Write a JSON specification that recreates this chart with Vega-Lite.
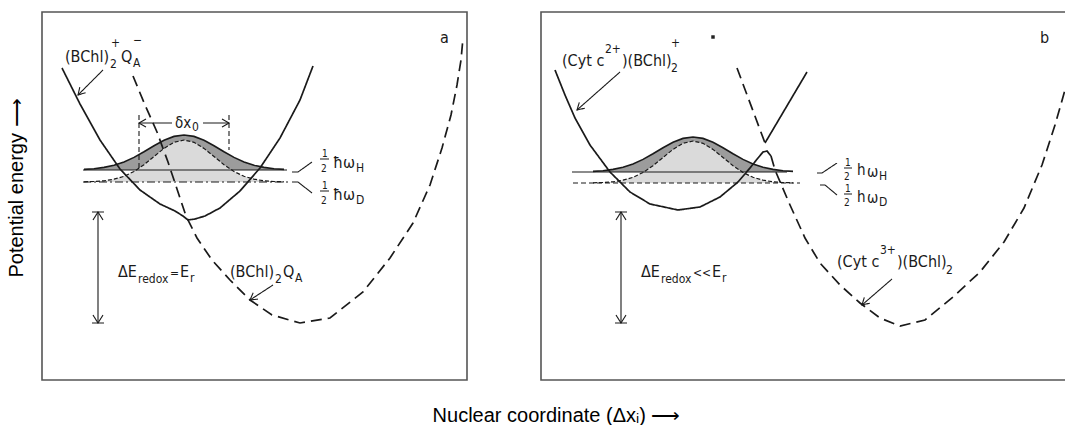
{
 "$schema": "https://vega.github.io/schema/vega-lite/v6.json",
 "width": 1023, "height": 368,
 "autosize": {"type": "none"},
 "padding": {"left": 42, "top": 12, "right": 0, "bottom": 45},
 "background": "white",
 "config": {"view": {"stroke": null}, "text": {"font": "DejaVu Sans Condensed, sans-serif", "align": "left", "baseline": "alphabetic", "color": "#1a1a1a"}},
 "datasets": {
  "frames": [{"p": "a", "X": 0, "X2": 425, "Y": 0, "Y2": 368}, {"p": "b", "X": 499, "X2": 1033, "Y": 0, "Y2": 368}],
  "gauss": [
   {"p":"a","X":42,"H":210.6,"D":198.2,"Hb":210,"Db":198},{"p":"a","X":52,"H":211.3,"D":198.5,"Hb":210,"Db":198},{"p":"a","X":62,"H":212.6,"D":199.2,"Hb":210,"Db":198},{"p":"a","X":72,"H":214.7,"D":200.8,"Hb":210,"Db":198},{"p":"a","X":82,"H":218.1,"D":203.7,"Hb":210,"Db":198},{"p":"a","X":92,"H":222.6,"D":208.5,"Hb":210,"Db":198},{"p":"a","X":102,"H":228.2,"D":215.3,"Hb":210,"Db":198},{"p":"a","X":112,"H":234.2,"D":223.5,"Hb":210,"Db":198},{"p":"a","X":122,"H":239.7,"D":231.6,"Hb":210,"Db":198},{"p":"a","X":132,"H":243.6,"D":237.7,"Hb":210,"Db":198},{"p":"a","X":142,"H":245,"D":240,"Hb":210,"Db":198},{"p":"a","X":152,"H":243.6,"D":237.7,"Hb":210,"Db":198},{"p":"a","X":162,"H":239.7,"D":231.6,"Hb":210,"Db":198},{"p":"a","X":172,"H":234.2,"D":223.5,"Hb":210,"Db":198},{"p":"a","X":182,"H":228.2,"D":215.3,"Hb":210,"Db":198},{"p":"a","X":192,"H":222.6,"D":208.5,"Hb":210,"Db":198},{"p":"a","X":202,"H":218.1,"D":203.7,"Hb":210,"Db":198},{"p":"a","X":212,"H":214.7,"D":200.8,"Hb":210,"Db":198},{"p":"a","X":222,"H":212.6,"D":199.2,"Hb":210,"Db":198},{"p":"a","X":232,"H":211.3,"D":198.5,"Hb":210,"Db":198},{"p":"a","X":242,"H":210.6,"D":198.2,"Hb":210,"Db":198},
   {"p":"b","X":551,"H":208.6,"D":197.2,"Hb":208,"Db":197},{"p":"b","X":561,"H":209.3,"D":197.5,"Hb":208,"Db":197},{"p":"b","X":571,"H":210.6,"D":198.2,"Hb":208,"Db":197},{"p":"b","X":581,"H":212.7,"D":199.8,"Hb":208,"Db":197},{"p":"b","X":591,"H":216.1,"D":202.7,"Hb":208,"Db":197},{"p":"b","X":601,"H":220.6,"D":207.5,"Hb":208,"Db":197},{"p":"b","X":611,"H":226.2,"D":214.3,"Hb":208,"Db":197},{"p":"b","X":621,"H":232.2,"D":222.5,"Hb":208,"Db":197},{"p":"b","X":631,"H":237.7,"D":230.6,"Hb":208,"Db":197},{"p":"b","X":641,"H":241.6,"D":236.7,"Hb":208,"Db":197},{"p":"b","X":651,"H":243,"D":239,"Hb":208,"Db":197},{"p":"b","X":661,"H":241.6,"D":236.7,"Hb":208,"Db":197},{"p":"b","X":671,"H":237.7,"D":230.6,"Hb":208,"Db":197},{"p":"b","X":681,"H":232.2,"D":222.5,"Hb":208,"Db":197},{"p":"b","X":691,"H":226.2,"D":214.3,"Hb":208,"Db":197},{"p":"b","X":701,"H":220.6,"D":207.5,"Hb":208,"Db":197},{"p":"b","X":711,"H":216.1,"D":202.7,"Hb":208,"Db":197},{"p":"b","X":721,"H":212.7,"D":199.8,"Hb":208,"Db":197},{"p":"b","X":731,"H":210.6,"D":198.2,"Hb":208,"Db":197},{"p":"b","X":741,"H":209.3,"D":197.5,"Hb":208,"Db":197},{"p":"b","X":751,"H":208.6,"D":197.2,"Hb":208,"Db":197}
  ],
  "L": [
   {"g":"a_sol","k":"c","s":"solid","X":20,"Y":312},{"g":"a_sol","k":"c","s":"solid","X":38,"Y":276},{"g":"a_sol","k":"c","s":"solid","X":58,"Y":240},{"g":"a_sol","k":"c","s":"solid","X":78,"Y":211},{"g":"a_sol","k":"c","s":"solid","X":98,"Y":190},{"g":"a_sol","k":"c","s":"solid","X":118,"Y":176},{"g":"a_sol","k":"c","s":"solid","X":133,"Y":169},{"g":"a_sol","k":"c","s":"solid","X":141,"Y":164},{"g":"a_sol","k":"c","s":"solid","X":146,"Y":160},{"g":"a_sol","k":"c","s":"solid","X":153,"Y":161},{"g":"a_sol","k":"c","s":"solid","X":163,"Y":164},{"g":"a_sol","k":"c","s":"solid","X":178,"Y":172},{"g":"a_sol","k":"c","s":"solid","X":198,"Y":189},{"g":"a_sol","k":"c","s":"solid","X":218,"Y":212},{"g":"a_sol","k":"c","s":"solid","X":238,"Y":242},{"g":"a_sol","k":"c","s":"solid","X":258,"Y":280},{"g":"a_sol","k":"c","s":"solid","X":271,"Y":314},
   {"g":"a_dash","k":"c","s":"dash","X":91,"Y":304},{"g":"a_dash","k":"c","s":"dash","X":103,"Y":275},{"g":"a_dash","k":"c","s":"dash","X":115,"Y":248},{"g":"a_dash","k":"c","s":"dash","X":126,"Y":218},{"g":"a_dash","k":"c","s":"dash","X":136,"Y":188},{"g":"a_dash","k":"c","s":"dash","X":144,"Y":164},{"g":"a_dash","k":"c","s":"dash","X":155,"Y":142},{"g":"a_dash","k":"c","s":"dash","X":170,"Y":120},{"g":"a_dash","k":"c","s":"dash","X":188,"Y":100},{"g":"a_dash","k":"c","s":"dash","X":208,"Y":80},{"g":"a_dash","k":"c","s":"dash","X":230,"Y":65},{"g":"a_dash","k":"c","s":"dash","X":258,"Y":57},{"g":"a_dash","k":"c","s":"dash","X":288,"Y":62},{"g":"a_dash","k":"c","s":"dash","X":321,"Y":88},{"g":"a_dash","k":"c","s":"dash","X":348,"Y":122},{"g":"a_dash","k":"c","s":"dash","X":371,"Y":157},{"g":"a_dash","k":"c","s":"dash","X":388,"Y":195},{"g":"a_dash","k":"c","s":"dash","X":400,"Y":232},{"g":"a_dash","k":"c","s":"dash","X":409,"Y":265},{"g":"a_dash","k":"c","s":"dash","X":415,"Y":295},{"g":"a_dash","k":"c","s":"dash","X":419,"Y":320},{"g":"a_dash","k":"c","s":"dash","X":421,"Y":342},
   {"g":"b_sol","k":"c","s":"solid","X":513,"Y":310},{"g":"b_sol","k":"c","s":"solid","X":523,"Y":285},{"g":"b_sol","k":"c","s":"solid","X":533,"Y":262},{"g":"b_sol","k":"c","s":"solid","X":548,"Y":235},{"g":"b_sol","k":"c","s":"solid","X":568,"Y":208},{"g":"b_sol","k":"c","s":"solid","X":588,"Y":188},{"g":"b_sol","k":"c","s":"solid","X":608,"Y":176},{"g":"b_sol","k":"c","s":"solid","X":636,"Y":170},{"g":"b_sol","k":"c","s":"solid","X":658,"Y":173},{"g":"b_sol","k":"c","s":"solid","X":678,"Y":183},{"g":"b_sol","k":"c","s":"solid","X":696,"Y":198},{"g":"b_sol","k":"c","s":"solid","X":708,"Y":212},{"g":"b_sol","k":"c","s":"solid","X":716,"Y":222},{"g":"b_sol","k":"c","s":"solid","X":721,"Y":228},{"g":"b_sol","k":"c","s":"solid","X":725,"Y":229},{"g":"b_sol","k":"c","s":"solid","X":729,"Y":224},
   {"g":"b_dash","k":"c","s":"dash","X":729,"Y":224},{"g":"b_dash","k":"c","s":"dash","X":733,"Y":210},{"g":"b_dash","k":"c","s":"dash","X":748,"Y":175},{"g":"b_dash","k":"c","s":"dash","X":763,"Y":142},{"g":"b_dash","k":"c","s":"dash","X":778,"Y":117},{"g":"b_dash","k":"c","s":"dash","X":798,"Y":95},{"g":"b_dash","k":"c","s":"dash","X":818,"Y":77},{"g":"b_dash","k":"c","s":"dash","X":838,"Y":62},{"g":"b_dash","k":"c","s":"dash","X":858,"Y":54},{"g":"b_dash","k":"c","s":"dash","X":883,"Y":60},{"g":"b_dash","k":"c","s":"dash","X":911,"Y":83},{"g":"b_dash","k":"c","s":"dash","X":938,"Y":108},{"g":"b_dash","k":"c","s":"dash","X":962,"Y":138},{"g":"b_dash","k":"c","s":"dash","X":982,"Y":172},{"g":"b_dash","k":"c","s":"dash","X":1000,"Y":215},{"g":"b_dash","k":"c","s":"dash","X":1013,"Y":255},{"g":"b_dash","k":"c","s":"dash","X":1023,"Y":290},
   {"g":"b_vd","k":"c","s":"dash","X":695,"Y":312},{"g":"b_vd","k":"c","s":"dash","X":723,"Y":237},
   {"g":"b_vs","k":"c","s":"solid","X":723,"Y":237},{"g":"b_vs","k":"c","s":"solid","X":765,"Y":308},
   {"g":"a_Hl","k":"t","s":"solid","X":41,"Y":210},{"g":"a_Hl","k":"t","s":"solid","X":245,"Y":210},
   {"g":"a_Dl","k":"t","s":"dd","X":41,"Y":198},{"g":"a_Dl","k":"t","s":"dd","X":248,"Y":198},
   {"g":"b_Hl","k":"t","s":"solid","X":530,"Y":208},{"g":"b_Hl","k":"t","s":"solid","X":745,"Y":208},
   {"g":"b_Dl","k":"t","s":"fine","X":531,"Y":197},{"g":"b_Dl","k":"t","s":"fine","X":758,"Y":197},
   {"g":"a_Hld","k":"t","s":"solid","X":250,"Y":208},{"g":"a_Hld","k":"t","s":"solid","X":256,"Y":208},{"g":"a_Hld","k":"t","s":"solid","X":270,"Y":218},
   {"g":"a_Dld","k":"t","s":"solid","X":250,"Y":198},{"g":"a_Dld","k":"t","s":"solid","X":256,"Y":198},{"g":"a_Dld","k":"t","s":"solid","X":270,"Y":187},
   {"g":"b_Hld","k":"t","s":"solid","X":775,"Y":207},{"g":"b_Hld","k":"t","s":"solid","X":780,"Y":207},{"g":"b_Hld","k":"t","s":"solid","X":795,"Y":217},
   {"g":"b_Dld","k":"t","s":"solid","X":778,"Y":195},{"g":"b_Dld","k":"t","s":"solid","X":783,"Y":195},{"g":"b_Dld","k":"t","s":"solid","X":795,"Y":185},
   {"g":"a_fH","k":"t","s":"solid","X":278,"Y":221},{"g":"a_fH","k":"t","s":"solid","X":287,"Y":221},
   {"g":"a_fD","k":"t","s":"solid","X":278,"Y":189},{"g":"a_fD","k":"t","s":"solid","X":287,"Y":189},
   {"g":"b_fH","k":"t","s":"solid","X":802,"Y":212},{"g":"b_fH","k":"t","s":"solid","X":810,"Y":212},
   {"g":"b_fD","k":"t","s":"solid","X":802,"Y":186},{"g":"b_fD","k":"t","s":"solid","X":810,"Y":186},
   {"g":"aL1","k":"t","s":"solid","X":61,"Y":310},{"g":"aL1","k":"t","s":"solid","X":36,"Y":285},
   {"g":"aL1h","k":"t","s":"solid","X":37.8,"Y":292.8},{"g":"aL1h","k":"t","s":"solid","X":36,"Y":285},{"g":"aL1h","k":"t","s":"solid","X":43.6,"Y":287.3},
   {"g":"aL2","k":"t","s":"solid","X":231,"Y":95},{"g":"aL2","k":"t","s":"solid","X":208,"Y":80},
   {"g":"aL2h","k":"t","s":"solid","X":211.2,"Y":87.3},{"g":"aL2h","k":"t","s":"solid","X":208,"Y":80},{"g":"aL2h","k":"t","s":"solid","X":215.9,"Y":80.9},
   {"g":"bL1","k":"t","s":"solid","X":578,"Y":308},{"g":"bL1","k":"t","s":"solid","X":535,"Y":270},
   {"g":"bL1h","k":"t","s":"solid","X":537.3,"Y":277.6},{"g":"bL1h","k":"t","s":"solid","X":535,"Y":270},{"g":"bL1h","k":"t","s":"solid","X":542.8,"Y":271.8},
   {"g":"bL2","k":"t","s":"solid","X":850,"Y":101},{"g":"bL2","k":"t","s":"solid","X":820,"Y":75},
   {"g":"bL2h","k":"t","s":"solid","X":822.3,"Y":82.6},{"g":"bL2h","k":"t","s":"solid","X":820,"Y":75},{"g":"bL2h","k":"t","s":"solid","X":827.8,"Y":76.8},
   {"g":"aE","k":"t","s":"solid","X":56,"Y":168},{"g":"aE","k":"t","s":"solid","X":56,"Y":57},
   {"g":"aEc1","k":"t","s":"solid","X":50,"Y":168},{"g":"aEc1","k":"t","s":"solid","X":62,"Y":168},
   {"g":"aEc2","k":"t","s":"solid","X":50,"Y":57},{"g":"aEc2","k":"t","s":"solid","X":62,"Y":57},
   {"g":"aEh1","k":"t","s":"solid","X":51,"Y":160},{"g":"aEh1","k":"t","s":"solid","X":56,"Y":168},{"g":"aEh1","k":"t","s":"solid","X":61,"Y":160},
   {"g":"aEh2","k":"t","s":"solid","X":51,"Y":65},{"g":"aEh2","k":"t","s":"solid","X":56,"Y":57},{"g":"aEh2","k":"t","s":"solid","X":61,"Y":65},
   {"g":"bE","k":"t","s":"solid","X":579,"Y":168},{"g":"bE","k":"t","s":"solid","X":579,"Y":57},
   {"g":"bEc1","k":"t","s":"solid","X":573,"Y":168},{"g":"bEc1","k":"t","s":"solid","X":585,"Y":168},
   {"g":"bEc2","k":"t","s":"solid","X":573,"Y":57},{"g":"bEc2","k":"t","s":"solid","X":585,"Y":57},
   {"g":"bEh1","k":"t","s":"solid","X":574,"Y":160},{"g":"bEh1","k":"t","s":"solid","X":579,"Y":168},{"g":"bEh1","k":"t","s":"solid","X":584,"Y":160},
   {"g":"bEh2","k":"t","s":"solid","X":574,"Y":65},{"g":"bEh2","k":"t","s":"solid","X":579,"Y":57},{"g":"bEh2","k":"t","s":"solid","X":584,"Y":65},
   {"g":"dx1","k":"t","s":"solid","X":97,"Y":257},{"g":"dx1","k":"t","s":"solid","X":130,"Y":257},
   {"g":"dx2","k":"t","s":"solid","X":161,"Y":257},{"g":"dx2","k":"t","s":"solid","X":187,"Y":257},
   {"g":"dxh1","k":"t","s":"solid","X":104,"Y":261},{"g":"dxh1","k":"t","s":"solid","X":97,"Y":257},{"g":"dxh1","k":"t","s":"solid","X":104,"Y":253},
   {"g":"dxh2","k":"t","s":"solid","X":180,"Y":261},{"g":"dxh2","k":"t","s":"solid","X":187,"Y":257},{"g":"dxh2","k":"t","s":"solid","X":180,"Y":253},
   {"g":"dxv1","k":"t","s":"fine","X":97,"Y":265},{"g":"dxv1","k":"t","s":"fine","X":97,"Y":210},
   {"g":"dxv2","k":"t","s":"fine","X":187,"Y":265},{"g":"dxv2","k":"t","s":"fine","X":187,"Y":230}
  ],
  "T": [
   {"r":"m","t":"(BChl)","X":23,"Y":318},{"r":"s","t":"2","X":68,"Y":312},{"r":"s","t":"+","X":69,"Y":333},{"r":"m","t":"Q","X":79,"Y":318},{"r":"s","t":"A","X":91,"Y":313},{"r":"s","t":"−","X":91,"Y":336},
   {"r":"f","t":"δx","X":133,"Y":252},{"r":"s","t":"0","X":150,"Y":249},
   {"r":"n","t":"1","X":280,"Y":223},{"r":"n","t":"2","X":279,"Y":208},{"r":"m","t":"ħ","X":291,"Y":212},{"r":"m","t":"ω","X":301,"Y":212},{"r":"s","t":"H","X":314,"Y":208},
   {"r":"n","t":"1","X":280,"Y":191},{"r":"n","t":"2","X":279,"Y":176},{"r":"m","t":"ħ","X":291,"Y":180},{"r":"m","t":"ω","X":301,"Y":180},{"r":"s","t":"D","X":314,"Y":176},
   {"r":"m","t":"ΔE","X":76,"Y":103},{"r":"s","t":"redox","X":96,"Y":97},{"r":"s","t":"=","X":128,"Y":103},{"r":"m","t":"E","X":138,"Y":103},{"r":"s","t":"r","X":148,"Y":98},
   {"r":"m","t":"(BChl)","X":188,"Y":103},{"r":"s","t":"2","X":233,"Y":97},{"r":"m","t":"Q","X":241,"Y":103},{"r":"s","t":"A","X":253,"Y":98},
   {"r":"m","t":"a","X":398,"Y":337},
   {"r":"m","t":"(Cyt c","X":520,"Y":314},{"r":"s","t":"2+","X":563,"Y":327},{"r":"m","t":")(BChl)","X":580,"Y":314},{"r":"s","t":"2","X":629,"Y":308},{"r":"s","t":"+","X":629,"Y":333},
   {"r":"n","t":"1","X":803,"Y":214},{"r":"n","t":"2","X":802,"Y":200},{"r":"f","t":"h","X":815,"Y":205},{"r":"f","t":"ω","X":825,"Y":203},{"r":"s","t":"H","X":837,"Y":200},
   {"r":"n","t":"1","X":803,"Y":188},{"r":"n","t":"2","X":802,"Y":174},{"r":"f","t":"h","X":815,"Y":178},{"r":"f","t":"ω","X":825,"Y":177},{"r":"s","t":"D","X":837,"Y":174},
   {"r":"m","t":"ΔE","X":599,"Y":103},{"r":"s","t":"redox","X":619,"Y":97},{"r":"s","t":"<<","X":651,"Y":103},{"r":"m","t":"E","X":670,"Y":103},{"r":"s","t":"r","X":680,"Y":98},
   {"r":"m","t":"(Cyt c","X":795,"Y":113},{"r":"s","t":"3+","X":838,"Y":126},{"r":"m","t":")(BChl)","X":855,"Y":113},{"r":"s","t":"2","X":904,"Y":106},
   {"r":"m","t":"b","X":998,"Y":337}
  ],
  "ytitle": [{"t": "Potential energy ⟶", "X": -25, "Y": 192}],
  "dots": [{"X": 671, "Y": 343}]
 },
 "encoding": {
  "x": {"field": "X", "type": "quantitative", "scale": {"domain": [0, 1023], "nice": false, "zero": false},
        "axis": {"title": "Nuclear coordinate (Δxᵢ)  ⟶", "labels": false, "ticks": false, "domain": false, "grid": false, "titleFont": "Liberation Sans, Arial, sans-serif", "titleFontSize": 20, "titleFontWeight": "normal", "titleColor": "#000", "titleX": 514, "titleY": 41, "titleBaseline": "alphabetic", "titleAlign": "center", "titleAnchor": null}},
  "y": {"field": "Y", "type": "quantitative", "scale": {"domain": [0, 368], "nice": false, "zero": false}, "axis": null}
 },
 "layer": [
  {"data": {"name": "frames"}, "mark": {"type": "rect", "filled": false, "stroke": "#555", "strokeWidth": 1.6},
   "encoding": {"x2": {"field": "X2"}, "y2": {"field": "Y2"}}},
  {"data": {"name": "gauss"}, "mark": {"type": "area", "fill": "#9c9c9c"},
   "encoding": {"y": {"field": "H", "type": "quantitative", "axis": null}, "y2": {"field": "Hb"}, "detail": {"field": "p"}}},
  {"data": {"name": "gauss"}, "mark": {"type": "area", "fill": "#dadada"},
   "encoding": {"y": {"field": "D", "type": "quantitative", "axis": null}, "y2": {"field": "Db"}, "detail": {"field": "p"}}},
  {"data": {"name": "gauss"}, "mark": {"type": "line", "color": "#1a1a1a", "strokeWidth": 1.6},
   "encoding": {"y": {"field": "H", "type": "quantitative", "axis": null}, "detail": {"field": "p"}}},
  {"data": {"name": "gauss"}, "mark": {"type": "line", "color": "#1a1a1a", "strokeWidth": 1.2, "strokeDash": [4, 2]},
   "encoding": {"y": {"field": "D", "type": "quantitative", "axis": null}, "detail": {"field": "p"}}},
  {"data": {"name": "L"}, "transform": [{"filter": "datum.k == 'c'"}], "mark": {"type": "line", "color": "#1a1a1a", "strokeWidth": 1.7},
   "encoding": {"detail": {"field": "g"}, "order": {"value": null},
    "strokeDash": {"field": "s", "type": "nominal", "scale": {"domain": ["solid", "dash", "fine", "dd"], "range": [[1, 0], [11, 6], [5, 3], [8, 3, 2, 3]]}, "legend": null}}},
  {"data": {"name": "L"}, "transform": [{"filter": "datum.k == 't'"}], "mark": {"type": "line", "color": "#1a1a1a", "strokeWidth": 1.1},
   "encoding": {"detail": {"field": "g"}, "order": {"value": null},
    "strokeDash": {"field": "s", "type": "nominal", "scale": {"domain": ["solid", "dash", "fine", "dd"], "range": [[1, 0], [11, 6], [5, 3], [8, 3, 2, 3]]}, "legend": null}}},
  {"data": {"name": "T"}, "transform": [{"filter": "datum.r == 'm'"}], "mark": {"type": "text", "fontSize": 16},
   "encoding": {"text": {"field": "t"}}},
  {"data": {"name": "T"}, "transform": [{"filter": "datum.r == 's'"}], "mark": {"type": "text", "fontSize": 12},
   "encoding": {"text": {"field": "t"}}},
  {"data": {"name": "T"}, "transform": [{"filter": "datum.r == 'n'"}], "mark": {"type": "text", "fontSize": 10},
   "encoding": {"text": {"field": "t"}}},
  {"data": {"name": "T"}, "transform": [{"filter": "datum.r == 'f'"}], "mark": {"type": "text", "fontSize": 15},
   "encoding": {"text": {"field": "t"}}},
  {"data": {"name": "ytitle"}, "mark": {"type": "text", "angle": 270, "align": "center", "baseline": "middle", "font": "Liberation Sans, Arial, sans-serif", "fontSize": 20, "color": "#000"},
   "encoding": {"text": {"field": "t"}}},
  {"data": {"name": "dots"}, "mark": {"type": "square", "size": 12, "color": "#222", "opacity": 1}}
 ]
}
